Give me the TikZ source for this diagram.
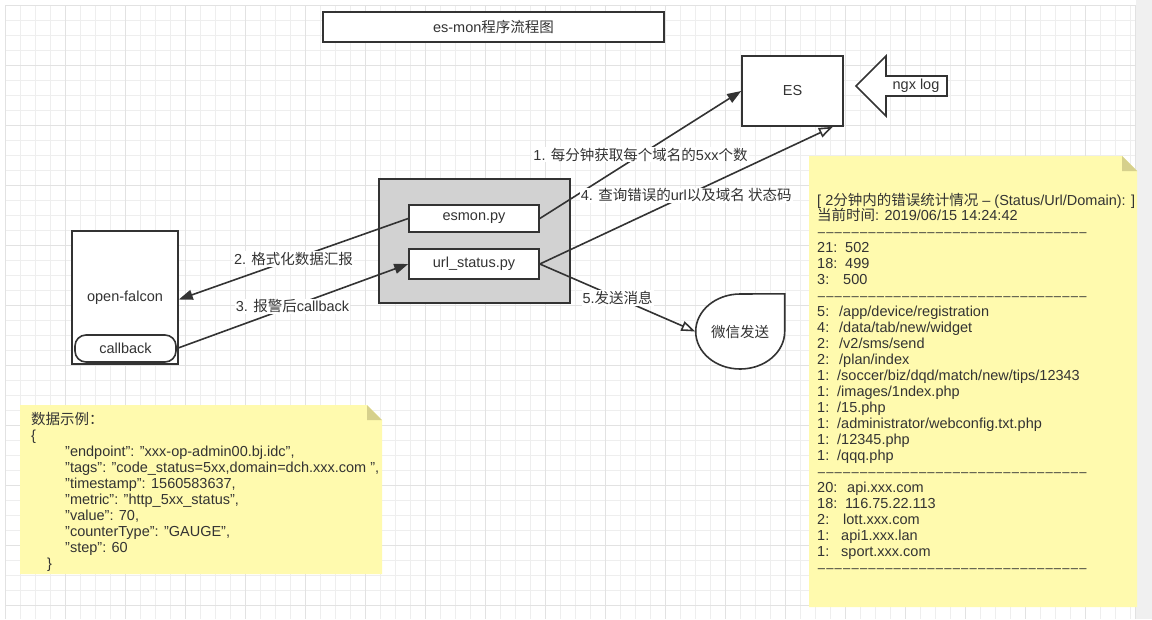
\documentclass[tikz,border=0pt]{standalone}
\usepackage{fontspec}
\setmainfont{Liberation Sans}
\newfontfamily\cjk{Noto Sans CJK SC}
\usetikzlibrary{arrows.meta,calc}
\definecolor{ink}{HTML}{333333}
\definecolor{gridminor}{HTML}{EEEEEE}
\definecolor{gridmajor}{HTML}{E2E2E2}
\definecolor{notey}{HTML}{FFFAAE}
\definecolor{notefold}{HTML}{D6D08C}
\definecolor{coregray}{HTML}{D2D2D2}
\definecolor{sidegray}{HTML}{F0F0F0}
\newcommand\mainfs{\fontsize{14.5}{16}\selectfont}
\newcommand\colw[2]{\makebox[#1pt][l]{#2}}
\newcommand\dline{\hbox to 270pt{\fontsize{13}{16}\selectfont\xleaders\hbox to 8.4pt{\hss–\hss}\hfill}}
\begin{document}
\begin{tikzpicture}[x=1pt,y=-1pt,
  box/.style={draw=ink, line width=1.6pt, fill=white, text=ink, inner sep=0pt, font=\mainfs},
  conn/.style={draw=ink, line width=1.6pt},
  fa/.style={-{Triangle[length=14pt,width=10pt]}},
  oa/.style={-{Triangle[open,length=14pt,width=10pt,fill=white]}},
  lbl/.style={fill=white, text=ink, inner sep=1pt, font=\mainfs},
  notetext/.style={anchor=north west, align=left, inner sep=0pt, text=ink, font=\mainfs}]
\useasboundingbox (0,0) rectangle (1152,619);
\fill[white] (0,0) rectangle (1152,619);
\fill[sidegray] (1136,0) rectangle (1152,619);
% grid
\foreach \gx in {5,20,...,1130} {\draw[gridminor, line width=0.8pt] (\gx,5) -- (\gx,619);}
\foreach \gy in {5,20,...,619} {\draw[gridminor, line width=0.8pt] (5,\gy) -- (1135,\gy);}
\foreach \gx in {5,65,...,1130} {\draw[gridmajor, line width=0.9pt] (\gx,5) -- (\gx,619);}
\foreach \gy in {5,65,...,619} {\draw[gridmajor, line width=0.9pt] (5,\gy) -- (1135,\gy);}
\draw[gridmajor, line width=0.9pt] (1135,5) -- (1135,619);

% title
\node[box, line width=1.4pt, minimum width=341pt, minimum height=30pt] (title) at (493.5,27) {es-mon{\cjk 程序流程图}};

% ES
\node[box, minimum width=101pt, minimum height=70pt] (es) at (792.5,91) {ES};

% ngx log block arrow
\draw[ink, line width=1.6pt, fill=white] (856,86) -- (886,56) -- (886,76) -- (947,76) -- (947,96) -- (886,96) -- (886,116) -- cycle;
\node[text=ink, font=\mainfs] (ngx) at (916,86) {ngx log};

% core gray container
\node[box, fill=coregray, minimum width=191pt, minimum height=124pt] (core) at (474.5,241) {};
\node[box, minimum width=130pt, minimum height=27pt] (esmon) at (474,218.5) {esmon.py};
\node[box, minimum width=130pt, minimum height=30pt] (url) at (474,264) {url\_status.py};

% open-falcon
\node[box, minimum width=106pt, minimum height=133pt] (falcon) at (125,297.5) {open-falcon};
\node[box, rounded corners=11pt, minimum width=101pt, minimum height=27pt] (cb) at (125.5,348.5) {callback};

% wechat
\node[text=ink, font=\mainfs, minimum width=89pt, minimum height=75pt, inner sep=0pt] (wx) at (740,331.5) {};
\draw[ink, line width=1.6pt, fill=white] (wx.north east) -- (wx.east) arc[start angle=0, end angle=-270, x radius=44.5pt, y radius=37.5pt] -- cycle;
\node[text=ink, font=\mainfs] at (wx.center) {\cjk 微信发送};

% connectors
\draw[conn, fa] (esmon.east) -- (es.west) node[lbl, midway] {1. {\cjk 每分钟获取每个域名的}5xx{\cjk 个数}};
\draw[conn, oa] (url.east) -- ([xshift=-11pt]es.south east) node[lbl, midway] {4. {\cjk 查询错误的}url{\cjk 以及域名 状态码}};
\draw[conn, fa] (esmon.west) -- ([yshift=-2pt]falcon.east) node[lbl, midway] {2. {\cjk 格式化数据汇报}};
\draw[conn, fa] (cb.east) -- (url.west) node[lbl, midway] {3. {\cjk 报警后}callback};
\draw[conn, oa] (url.east) -- (wx.west) node[lbl, midway] {5.{\cjk 发送消息}};

% left note
\fill[notey] (20,405) -- (367,405) -- (382,420) -- (382,574) -- (20,574) -- cycle;
\fill[notefold] (367,405) -- (367,420) -- (382,420) -- cycle;
\node[notetext] (sample) at (31,412) {{\cjk 数据示例：}\\
\{\\
\hspace*{34pt}"endpoint": "xxx-op-admin00.bj.idc",\\
\hspace*{34pt}"tags": "code\_status=5xx,domain=dch.xxx.com ",\\
\hspace*{34pt}"timestamp": 1560583637,\\
\hspace*{34pt}"metric": "http\_5xx\_status",\\
\hspace*{34pt}"value": 70,\\
\hspace*{34pt}"counterType": "GAUGE",\\
\hspace*{34pt}"step": 60\\
\hspace*{16pt}\}};

% right note
\fill[notey] (809,156) -- (1122,156) -- (1137,171) -- (1137,607) -- (809,607) -- cycle;
\fill[notefold] (1122,156) -- (1122,171) -- (1137,171) -- cycle;
\node[notetext] (stats) at (817,193) {[ 2{\cjk 分钟内的错误统计情况} – (Status/Url/Domain): ]\\[-1pt]
{\cjk 当前时间}: 2019/06/15 14:24:42\\
\dline\\
\colw{28}{21:}502\\
\colw{28}{18:}499\\
\colw{26}{3:}500\\
\dline\\
\colw{22}{5:}/app/device/registration\\
\colw{22}{4:}/data/tab/new/widget\\
\colw{22}{2:}/v2/sms/send\\
\colw{22}{2:}/plan/index\\
\colw{20}{1:}/soccer/biz/dqd/match/new/tips/12343\\
\colw{20}{1:}/images/1ndex.php\\
\colw{20}{1:}/15.php\\
\colw{20}{1:}/administrator/webconfig.txt.php\\
\colw{20}{1:}/12345.php\\
\colw{20}{1:}/qqq.php\\
\dline\\
\colw{30}{20:}api.xxx.com\\
\colw{28}{18:}116.75.22.113\\
\colw{26}{2:}lott.xxx.com\\
\colw{24}{1:}api1.xxx.lan\\
\colw{24}{1:}sport.xxx.com\\
\dline};
\end{tikzpicture}
\end{document}
